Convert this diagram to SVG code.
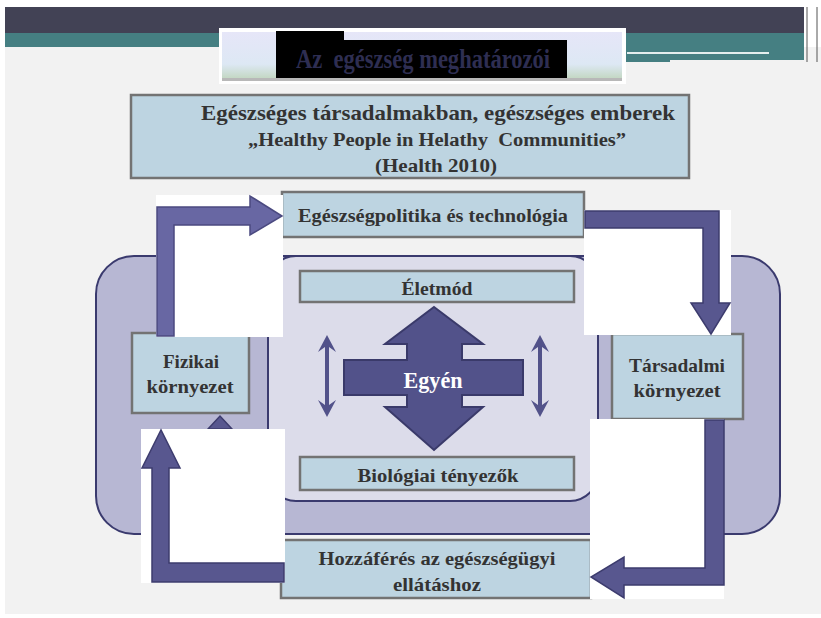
<svg xmlns="http://www.w3.org/2000/svg" width="821" height="618" viewBox="0 0 821 618">
<defs>
<linearGradient id="tg" x1="0" y1="0" x2="0" y2="1">
<stop offset="0" stop-color="#e6e6f8"/>
<stop offset="0.7" stop-color="#dde8f4"/>
<stop offset="1" stop-color="#c4d8c4"/>
</linearGradient>
<style>
.box{fill:#bdd4e1;stroke:#737373;stroke-width:2.5}
.t{font-family:"Liberation Serif","DejaVu Serif",serif;font-weight:bold;fill:#333333;text-anchor:middle}
.arr{fill:#58578f;stroke:#3d3c6e;stroke-width:1.5;stroke-linejoin:miter}
.arr1{fill:#6867a3;stroke:#4b4a80;stroke-width:1.5}
.wb{fill:#ffffff}
.dbl{fill:#52528a}
</style>
</defs>
<rect x="0" y="0" width="821" height="618" fill="#ffffff"/>
<rect x="5" y="47" width="816" height="567" fill="#f2f2f2"/>
<!-- header bands -->
<rect x="5" y="7" width="799" height="26" fill="#424255"/>
<rect x="5" y="33" width="799" height="14" fill="#457f82"/>
<rect x="626" y="47" width="178" height="13" fill="#457f82"/>
<rect x="626" y="60" width="44" height="2" fill="#457f82"/>
<rect x="627" y="52" width="142" height="2" fill="#e4eeee"/>
<line x1="807" y1="7" x2="807" y2="62" stroke="#555" stroke-width="1"/>
<line x1="817" y1="7" x2="817" y2="62" stroke="#555" stroke-width="1"/>
<!-- title -->
<g id="title">
<rect x="219" y="28" width="407" height="56" fill="#ffffff"/>
<rect x="222" y="32" width="400" height="46" fill="url(#tg)"/>
<rect x="222" y="78" width="400" height="3" fill="#b8b8b8"/>
<rect x="276" y="31" width="68" height="10" fill="#000000"/>
<rect x="276" y="40" width="291" height="38" fill="#000000"/>
<text x="296" y="68" font-family="Liberation Serif,serif" font-weight="bold" font-size="27" fill="#2e2e52" textLength="254" lengthAdjust="spacingAndGlyphs" style="white-space:pre">Az  egészség meghatározói</text>
</g>
<!-- heading box -->
<g id="heading">
<rect class="box" x="131" y="95" width="558" height="83"/>
<text class="t" x="438" y="120" font-size="22" textLength="474" lengthAdjust="spacingAndGlyphs">Egészséges társadalmakban, egészséges emberek</text>
<text class="t" x="437" y="146" font-size="18" textLength="378" lengthAdjust="spacingAndGlyphs" style="white-space:pre">„Healthy People in Helathy  Communities”</text>
<text class="t" x="436" y="172" font-size="19" textLength="122" lengthAdjust="spacingAndGlyphs">(Health 2010)</text>
</g>
<!-- outer and inner rounded areas -->
<g id="outer">
<rect x="96" y="256" width="684" height="278" rx="38" ry="38" fill="#b7b7d3" stroke="#3a3a6e" stroke-width="2"/>
</g>
<g id="inner">
<rect x="268" y="256" width="330" height="245" rx="28" ry="28" fill="#dcdcea" stroke="#3a3a6e" stroke-width="2"/>
</g>
<g id="policy">
<rect class="box" x="282" y="192" width="302" height="45"/>
<text class="t" x="433" y="222" font-size="19" textLength="270" lengthAdjust="spacingAndGlyphs">Egészségpolitika és technológia</text>
</g>
<g id="eletmod">
<rect class="box" x="300" y="271" width="274" height="31"/>
<text class="t" x="437" y="295" font-size="19" textLength="71" lengthAdjust="spacingAndGlyphs">Életmód</text>
</g>
<g id="biologiai">
<rect class="box" x="300" y="457" width="274" height="33"/>
<text class="t" x="438" y="482" font-size="19" textLength="161" lengthAdjust="spacingAndGlyphs">Biológiai tényezők</text>
</g>
<g id="egyen">
<polygon points="434,307 483,344 462,344 462,360 523,360 523,395 462,395 462,407 483,407 434,450 385,407 407,407 407,395 344,395 344,360 407,360 407,344 385,344" fill="#52528a" stroke="#3a3a6a" stroke-width="2"/>
<text x="433" y="388" font-family="Liberation Serif,serif" font-weight="bold" font-size="23" fill="#ffffff" text-anchor="middle" textLength="59" lengthAdjust="spacingAndGlyphs">Egyén</text>
</g>
<g id="fizikai">
<rect class="box" x="132" y="333" width="117" height="80"/>
<text class="t" x="191" y="368" font-size="19" textLength="56" lengthAdjust="spacingAndGlyphs">Fizikai</text>
<text class="t" x="190" y="393" font-size="19" textLength="87" lengthAdjust="spacingAndGlyphs">környezet</text>
</g>
<g id="tarsadalmi">
<rect class="box" x="612" y="334" width="131" height="85"/>
<text class="t" x="677" y="372" font-size="19" textLength="96" lengthAdjust="spacingAndGlyphs">Társadalmi</text>
<text class="t" x="677" y="397" font-size="19" textLength="87" lengthAdjust="spacingAndGlyphs">környezet</text>
</g>
<g id="hozzaferes">
<rect class="box" x="281" y="540" width="310" height="58"/>
<text class="t" x="437" y="565" font-size="19" textLength="237" lengthAdjust="spacingAndGlyphs">Hozzáférés az egészségügyi</text>
<text class="t" x="437" y="591" font-size="19" textLength="88" lengthAdjust="spacingAndGlyphs">ellátáshoz</text>
</g>
<!-- connectors -->
<g id="connectors">
<polygon class="arr" points="208,429 220,416 232,429"/>
<rect class="wb" x="156" y="195" width="127" height="142"/>
<rect class="wb" x="584" y="210" width="147" height="125"/>
<rect class="wb" x="590" y="419" width="134" height="180"/>
<rect class="wb" x="141" y="429" width="144" height="154"/>
<polygon class="arr1" points="157,336 157,207 250,207 250,196 282,216 250,235 250,225 174,225 174,336"/>
<polygon class="arr" points="585,211 719,211 719,303 730,303 711,334 691,303 703,303 703,228 585,228"/>
<polygon class="arr" points="705,420 724,420 724,585 624,585 624,598 591,577 624,557 624,568 705,568"/>
<polygon class="arr" points="284,563 284,582 152,582 152,468 142,468 161,430 180,468 169,468 169,563"/>
<g class="dbl">
<rect x="325" y="345" width="4" height="62"/>
<polygon points="327,335 336,352 329,347 325,347 318,352"/>
<polygon points="327,417 336,400 329,405 325,405 318,400"/>
<rect x="538" y="345" width="4" height="62"/>
<polygon points="540,335 549,352 542,347 538,347 531,352"/>
<polygon points="540,417 549,400 542,405 538,405 531,400"/>
</g>
</g>
</svg>
